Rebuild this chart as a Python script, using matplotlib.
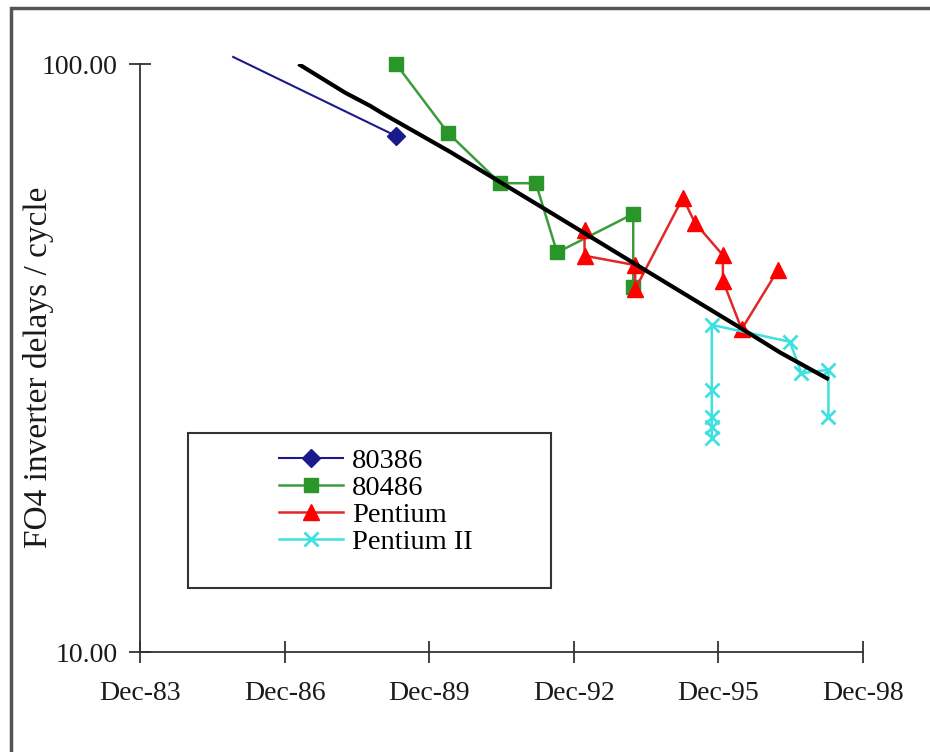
import matplotlib
matplotlib.use("Agg")
from matplotlib import pyplot as plt
from matplotlib import ticker
from matplotlib.patches import Rectangle

# dates as fractional years, values in FO4 delays per cycle
i386_x = [1985.85, 1989.22]
i386_y = [102.8, 75.5]

i486_x = [1989.23, 1990.31, 1991.39, 1992.13, 1992.57, 1994.15, 1994.15]
i486_y = [100.0, 76.3, 62.7, 62.7, 47.8, 55.6, 41.8]

pent_x = [1993.14, 1993.14, 1994.19, 1994.19, 1995.18, 1995.43,
          1996.01, 1996.01, 1996.40, 1997.15]
pent_y = [52.2, 47.2, 45.5, 41.4, 59.2, 53.7, 47.3, 42.8, 35.4, 44.6]

p2_x = [1995.78, 1995.78, 1995.78, 1995.78, 1995.78,
        1997.40, 1997.64, 1998.20, 1998.20]
p2_y = [23.1, 24.1, 25.1, 27.9, 36.0, 33.7, 29.8, 30.2, 25.1]

trend_x = [1987.24, 1988.17, 1988.69, 1988.95, 1990.35, 1992.42,
           1994.50, 1996.37, 1997.20, 1998.17]
trend_y = [99.6, 89.4, 84.9, 82.4, 70.9, 56.0, 44.1, 35.6, 32.3, 29.2]

tick_years = [1983.917, 1986.917, 1989.917, 1992.917, 1995.917, 1998.917]
tick_labels = ["Dec-83", "Dec-86", "Dec-89", "Dec-92", "Dec-95", "Dec-98"]

plt.rcParams["font.family"] = ["Liberation Serif", "DejaVu Serif"]

fig = plt.figure(figsize=(9.3, 7.52), dpi=100)
ax = fig.add_axes([140 / 930, 1 - 652 / 752, 723 / 930, 588 / 752])

ax.plot(i386_x, i386_y, color="#1a1a8c", lw=1.5, marker="D", ms=9,
        markevery=[1], label="80386", clip_on=False, zorder=3)
ax.plot(i486_x, i486_y, color="#3c9c3c", lw=1.8, marker="s", ms=10,
        mfc="#2a962a", mec="#2a962a", label="80486", clip_on=False, zorder=3)
ax.plot(pent_x, pent_y, color="#e02828", lw=1.8, marker="^", ms=11,
        mfc="#ff0000", mec="#ff0000", label="Pentium", zorder=3)
ax.plot(p2_x, p2_y, color="#3ee0e0", lw=1.8, marker="x", ms=10, mew=2,
        label="Pentium II", zorder=3)
ax.plot(trend_x, trend_y, color="black", lw=3, zorder=4,
        solid_joinstyle="round")

ax.set_yscale("log")
ax.set_ylim(10, 100)
ax.set_xlim(tick_years[0], tick_years[-1])
ax.yaxis.set_major_locator(ticker.FixedLocator([10, 100]))
ax.yaxis.set_minor_locator(ticker.NullLocator())
ax.yaxis.set_major_formatter(ticker.FuncFormatter(lambda v, p: f"{v:.2f}"))
ax.set_xticks(tick_years)
ax.set_xticklabels(tick_labels)

for s in ["top", "right"]:
    ax.spines[s].set_visible(False)
for s in ["left", "bottom"]:
    ax.spines[s].set_color("#333333")
    ax.spines[s].set_linewidth(1.3)
ax.tick_params(axis="both", direction="inout", length=16, width=1.3,
               color="#333333", labelsize=20, labelcolor="#1a1a1a")
ax.tick_params(axis="y", pad=8)
ax.tick_params(axis="x", pad=13)

fig.text(38 / 930, 1 - 367 / 752, "FO4 inverter delays / cycle",
         rotation=90, ha="center", va="center", fontsize=24, color="#1a1a1a")

# legend box
fig.patches.append(Rectangle((188 / 930, 1 - 588 / 752), 363 / 930, 155 / 752,
                             transform=fig.transFigure, fill=False,
                             edgecolor="#333333", lw=1.5))
leg = fig.legend(loc="upper left", bbox_to_anchor=(265 / 930, 1 - 434 / 752),
                 frameon=False, fontsize=20.5, labelspacing=0.04,
                 handlelength=2.25, handletextpad=0.3, borderpad=0)

# outer chart border
fig.patches.append(Rectangle((11 / 930, -0.2), 1.2, 1.2 - 8 / 752,
                             transform=fig.transFigure, fill=False,
                             edgecolor="#555555", lw=2.5))

fig.savefig("out.png", dpi=100)
